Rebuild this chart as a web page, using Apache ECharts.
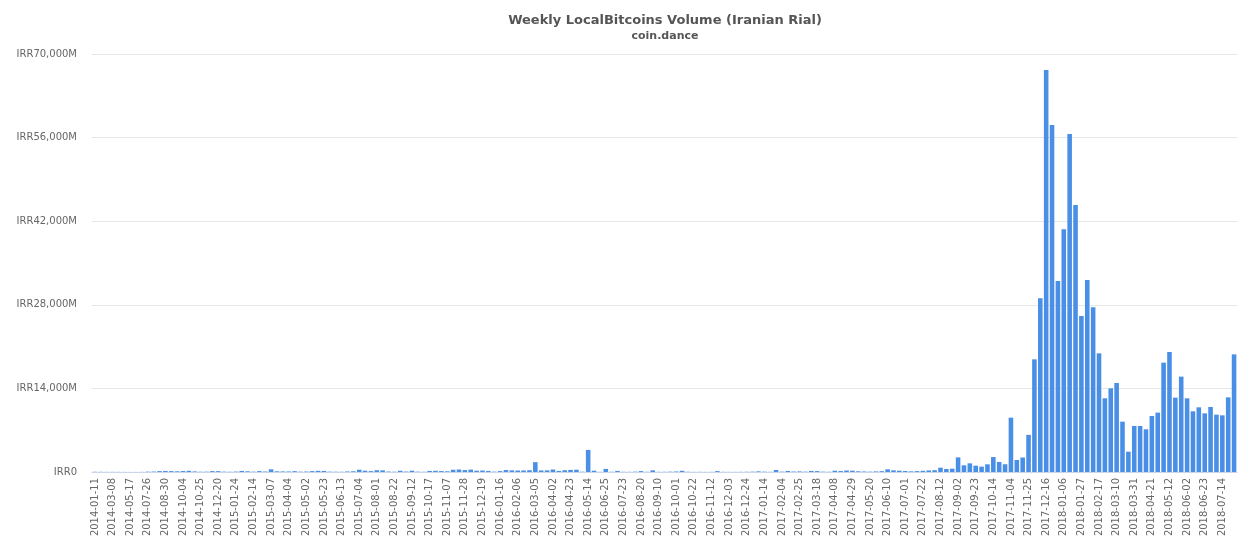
<!DOCTYPE html>
<html>
<head>
<meta charset="utf-8">
<script src="https://cdn.jsdelivr.net/npm/echarts@6/dist/echarts.min.js"></script>
<style>
html,body{margin:0;padding:0;background:#fff;}
#chart{width:1251px;height:550px;}
</style>
</head>
<body>
<div id="chart"></div>
<script>
const titleText = "Weekly LocalBitcoins Volume (Iranian Rial)";
const subtitleText = "coin.dance";

const weeks = [
"2014-01-11","2014-01-25","2014-02-15","2014-03-08","2014-03-29","2014-04-26","2014-05-17","2014-06-07","2014-07-05",
"2014-07-26","2014-08-09","2014-08-23","2014-08-30","2014-09-06","2014-09-20","2014-10-04","2014-10-11","2014-10-18",
"2014-10-25","2014-11-08","2014-11-29","2014-12-20","2014-12-27","2015-01-10","2015-01-24","2015-01-31","2015-02-07",
"2015-02-14","2015-02-21","2015-02-28","2015-03-07","2015-03-14","2015-03-28","2015-04-04","2015-04-11","2015-04-25",
"2015-05-02","2015-05-09","2015-05-16","2015-05-23","2015-05-30","2015-06-06","2015-06-13","2015-06-20","2015-06-27",
"2015-07-04","2015-07-11","2015-07-25","2015-08-01","2015-08-08","2015-08-15","2015-08-22","2015-08-29","2015-09-05",
"2015-09-12","2015-09-26","2015-10-03","2015-10-17","2015-10-24","2015-10-31","2015-11-07","2015-11-14","2015-11-21",
"2015-11-28","2015-12-05","2015-12-12","2015-12-19","2015-12-26","2016-01-09","2016-01-16","2016-01-23","2016-01-30",
"2016-02-06","2016-02-13","2016-02-27","2016-03-05","2016-03-12","2016-03-26","2016-04-02","2016-04-09","2016-04-16",
"2016-04-23","2016-04-30","2016-05-07","2016-05-14","2016-05-21","2016-06-11","2016-06-25","2016-07-02","2016-07-16",
"2016-07-23","2016-07-30","2016-08-13","2016-08-20","2016-08-27","2016-09-03","2016-09-10","2016-09-17","2016-09-24",
"2016-10-01","2016-10-08","2016-10-15","2016-10-22","2016-10-29","2016-11-05","2016-11-12","2016-11-19","2016-11-26",
"2016-12-03","2016-12-10","2016-12-17","2016-12-24","2016-12-31","2017-01-07","2017-01-14","2017-01-21","2017-01-28",
"2017-02-04","2017-02-11","2017-02-18","2017-02-25","2017-03-04","2017-03-11","2017-03-18","2017-03-25","2017-04-01",
"2017-04-08","2017-04-15","2017-04-22","2017-04-29","2017-05-06","2017-05-13","2017-05-20","2017-05-27","2017-06-03",
"2017-06-10","2017-06-17","2017-06-24","2017-07-01","2017-07-08","2017-07-15","2017-07-22","2017-07-29","2017-08-05",
"2017-08-12","2017-08-19","2017-08-26","2017-09-02","2017-09-09","2017-09-16","2017-09-23","2017-09-30","2017-10-07",
"2017-10-14","2017-10-21","2017-10-28","2017-11-04","2017-11-11","2017-11-18","2017-11-25","2017-12-02","2017-12-09",
"2017-12-16","2017-12-23","2017-12-30","2018-01-06","2018-01-13","2018-01-20","2018-01-27","2018-02-03","2018-02-10",
"2018-02-17","2018-02-24","2018-03-03","2018-03-10","2018-03-17","2018-03-24","2018-03-31","2018-04-07","2018-04-14",
"2018-04-21","2018-04-28","2018-05-05","2018-05-12","2018-05-19","2018-05-26","2018-06-02","2018-06-09","2018-06-16",
"2018-06-23","2018-06-30","2018-07-07","2018-07-14","2018-07-21","2018-07-28"
];

// weekly volume, millions of IRR
const volumeM = [
40,30,20, 25,20,15, 10,15,20,
60,80,150, 180,150,120, 160,200,100,
50,60,150, 140,60,40, 70,180,120,
60,150,80, 450,120,100, 90,140,60,
80,150,200, 180,60,50, 40,90,120,
380,220,150, 300,280,80, 50,200,80,
220,60,40, 180,200,160, 120,380,420,
320,400,220, 250,180,60, 150,330,280,
250,260,300, 1650,260,280, 420,180,300,
350,380,50, 3700,220,30, 520,40,180,
40,30,60, 150,40,280, 30,40,60,
90,200,40, 20,30,20, 30,150,30,
20,20,30, 40,60,110, 60,30,330,
60,180,80, 100,60,180, 150,60,40,
220,160,250, 220,120,90, 60,100,140,
450,280,220, 170,110,150, 200,260,300,
720,500,560, 2450,1120,1450, 1060,900,1290,
2500,1680,1300, 9100,2010,2430, 6220,18870,29080,
67320,58110,31990, 40640,56600,44710, 26120,32150,27580,
19870,12340,14010, 14900,8430,3400, 7700,7700,7150,
9380,9940,18310, 20100,12450,15970, 12340,10160,10830,
9820,10890,9600, 9490,12500,19700
];

const yMin = 0, yMax = 70000, yStep = 14000;

const chart = echarts.init(document.getElementById('chart'), null, {renderer:'canvas'});
const fontFam = '"DejaVu Sans", Verdana, sans-serif';
chart.setOption({
  animation:false,
  backgroundColor:'#ffffff',
  title:{
    text:titleText,
    subtext:subtitleText,
    left:665, top:14, textAlign:'center', itemGap:4, padding:0,
    textStyle:{fontFamily:fontFam,fontSize:13,fontWeight:'bold',color:'#555555'},
    subtextStyle:{fontFamily:fontFam,fontSize:11,fontWeight:'bold',color:'#555555'}
  },
  grid:{left:92,right:14,top:54,bottom:78,containLabel:false},
  xAxis:{
    type:'category',
    data:weeks,
    boundaryGap:true,
    axisLine:{show:true,lineStyle:{color:'#ccd6eb',width:1}},
    axisTick:{show:false},
    axisLabel:{interval:2,rotate:90,fontFamily:fontFam,fontSize:10,color:'#666666',margin:6}
  },
  yAxis:{
    type:'value',
    min:yMin,max:yMax,interval:yStep,
    axisLine:{show:false},
    axisTick:{show:false},
    splitLine:{lineStyle:{color:'#e6e6e6',width:1}},
    axisLabel:{fontFamily:fontFam,fontSize:10,color:'#666666',margin:15,
      formatter:function(v){return v===0?'IRR0':'IRR'+v.toLocaleString('en-US')+'M';}}
  },
  series:[{
    type:'bar',
    data:volumeM,
    barCategoryGap:'22%',
    itemStyle:{color:'#4a8fe6'}
  }]
});
</script>
</body>
</html>
